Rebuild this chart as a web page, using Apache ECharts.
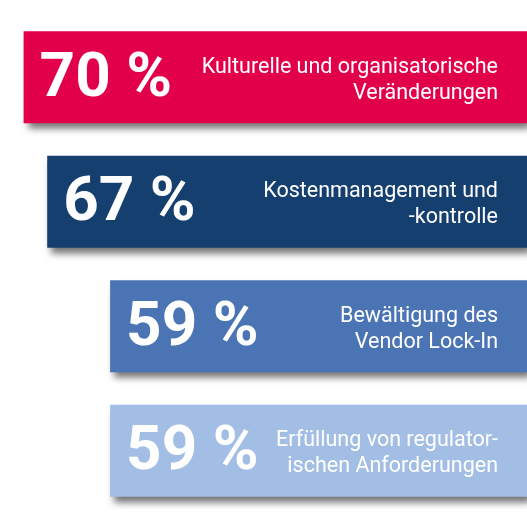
<!DOCTYPE html>
<html><head><meta charset="utf-8">
<script src="https://cdn.jsdelivr.net/npm/echarts@6/dist/echarts.min.js"></script>
<style>html,body{margin:0;padding:0;background:#fff}#c{width:527px;height:527px}</style>
</head><body><div id="c"></div>
<script>
var categories = ["Kulturelle und organisatorische\nVeränderungen", "Kostenmanagement und\n-kontrolle", "Bewältigung des\nVendor Lock-In", "Erfüllung von regulator-\nischen Anforderungen"];
var values = [70, 67, 59, 59];
var colors = ["#E2004A", "#143F6F", "#4A74B4", "#A3BEE4"];

var chart = echarts.init(document.getElementById('c'), null, {renderer: 'canvas'});
chart.setOption({
  animation: false,
  grid: {left: 0, right: 0, top: 15, bottom: 14},
  xAxis: {type: 'value', min: 6, max: 73, inverse: true, show: false},
  yAxis: {type: 'category', data: categories, inverse: true, show: false},
  series: [
    {
      type: 'bar', barWidth: 92, z: 2,
      data: values.map(function (v, i) {
        return {value: v, itemStyle: {color: colors[i]}};
      }),
      itemStyle: {shadowBlur: 7, shadowOffsetX: 4, shadowOffsetY: 6, shadowColor: 'rgba(0,0,0,0.55)'},
      label: {
        show: true, position: 'insideLeft', distance: 16, offset: [0, 3],
        formatter: function (p) { return p.value + ' %'; },
        color: '#fff', fontFamily: 'Roboto', fontWeight: 'bold', fontSize: 62
      }
    },
    {
      type: 'bar', barWidth: 92, barGap: '-100%', z: 3, silent: true,
      data: values,
      itemStyle: {color: 'rgba(0,0,0,0)'},
      label: {
        show: true, position: 'insideRight', distance: 29, offset: [0, 3],
        formatter: function (p) { return p.name; },
        align: 'right',
        color: '#fff', fontFamily: 'Roboto', fontSize: 21.5, lineHeight: 26
      }
    }
  ]
});
</script></body></html>
